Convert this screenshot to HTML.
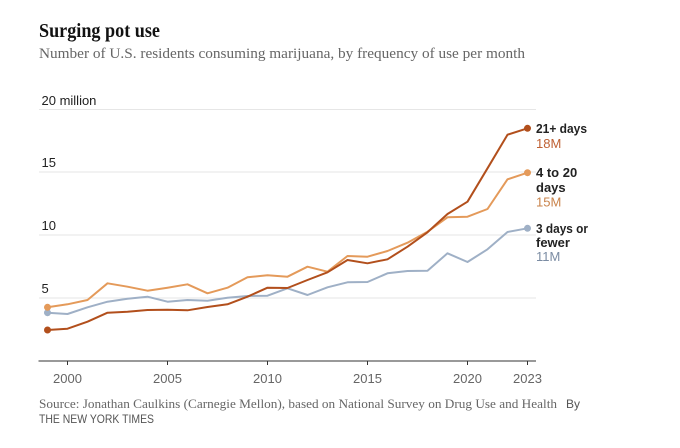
<!DOCTYPE html>
<html>
<head>
<meta charset="utf-8">
<style>
  html,body{margin:0;padding:0;background:#fff;}
  svg{display:block;}
</style>
</head>
<body>
<svg width="680" height="448" viewBox="0 0 680 448" xmlns="http://www.w3.org/2000/svg">
  <rect width="680" height="448" fill="#fff"/>
  <!-- Title -->
  <text x="39" y="37" font-family="Liberation Serif, serif" font-weight="bold" font-size="19.5" fill="#121212" textLength="121" lengthAdjust="spacingAndGlyphs">Surging pot use</text>
  <text x="39" y="58" font-family="Liberation Serif, serif" font-size="15" fill="#666" textLength="486" lengthAdjust="spacingAndGlyphs">Number of U.S. residents consuming marijuana, by frequency of use per month</text>

  <!-- Gridlines -->
  <g stroke="#e6e6e6" stroke-width="1">
    <line x1="39" y1="109.5" x2="536" y2="109.5"/>
    <line x1="39" y1="172" x2="536" y2="172"/>
    <line x1="39" y1="235" x2="536" y2="235"/>
    <line x1="39" y1="298" x2="536" y2="298"/>
  </g>
  <!-- Y labels -->
  <g font-family="Liberation Sans, sans-serif" font-size="13" fill="#222">
    <text x="41.5" y="105">20 million</text>
    <text x="41.5" y="167">15</text>
    <text x="41.5" y="230">10</text>
    <text x="41.5" y="293">5</text>
  </g>

  <!-- Axis -->
  <line x1="38.5" y1="361" x2="536" y2="361" stroke="#333" stroke-width="1"/>
  <g stroke="#333" stroke-width="1">
    <line x1="67.5" y1="361" x2="67.5" y2="365"/>
    <line x1="167.5" y1="361" x2="167.5" y2="365"/>
    <line x1="267.5" y1="361" x2="267.5" y2="365"/>
    <line x1="367.5" y1="361" x2="367.5" y2="365"/>
    <line x1="467.5" y1="361" x2="467.5" y2="365"/>
    <line x1="527.5" y1="361" x2="527.5" y2="365"/>
  </g>
  <g font-family="Liberation Sans, sans-serif" font-size="13" fill="#666" text-anchor="middle">
    <text x="67.5" y="383">2000</text>
    <text x="167.5" y="383">2005</text>
    <text x="267.5" y="383">2010</text>
    <text x="367.5" y="383">2015</text>
    <text x="467.5" y="383">2020</text>
    <text x="527.5" y="383">2023</text>
  </g>

  <!-- Series: 3 days or fewer -->
  <polyline fill="none" stroke="#9fb0c6" stroke-width="2" stroke-linejoin="round"
    points="47.5,312.7 67.5,314 87.5,307.3 107.5,301.7 127.5,298.7 147.5,296.7 167.5,301.7 187.5,300 207.5,300.7 227.5,297.7 247.5,296 267.5,295.7 287.5,288.3 307.5,295 327.5,287.3 347.5,282.3 367.5,282 387.5,273.3 407.5,271 427.5,270.7 447.5,253.3 467.5,262 487.5,249.3 507.5,232 527.5,228.3"/>
  <!-- Series: 4 to 20 days -->
  <polyline fill="none" stroke="#e49a5a" stroke-width="2" stroke-linejoin="round"
    points="47.5,307.3 67.5,304.3 87.5,300 107.5,283.3 127.5,286.7 147.5,290.7 167.5,287.7 187.5,284.3 207.5,293.3 227.5,287.7 247.5,277.3 267.5,275.3 287.5,276.7 307.5,266.7 327.5,271.7 347.5,256 367.5,256.7 387.5,251 407.5,242.7 427.5,231.7 447.5,217.3 467.5,216.7 487.5,209 507.5,179.3 527.5,172.7"/>
  <!-- Series: 21+ days -->
  <polyline fill="none" stroke="#b24f1c" stroke-width="2" stroke-linejoin="round"
    points="47.5,330 67.5,328.7 87.5,321.7 107.5,312.7 127.5,311.7 147.5,310 167.5,309.7 187.5,310.3 207.5,307 227.5,304.3 247.5,296.7 267.5,287.7 287.5,288 307.5,280 327.5,272.3 347.5,260 367.5,263.3 387.5,259.3 407.5,246.7 427.5,232.3 447.5,214 467.5,201.7 487.5,168.3 507.5,134.7 527.5,128.3"/>

  <!-- Dots -->
  <circle cx="47.5" cy="312.7" r="3.5" fill="#9fb0c6"/>
  <circle cx="47.5" cy="307.3" r="3.5" fill="#e49a5a"/>
  <circle cx="47.5" cy="330" r="3.5" fill="#b24f1c"/>
  <circle cx="527.5" cy="228.3" r="3.5" fill="#9fb0c6"/>
  <circle cx="527.5" cy="172.7" r="3.5" fill="#e49a5a"/>
  <circle cx="527.5" cy="128.3" r="3.5" fill="#b24f1c"/>

  <!-- End labels -->
  <g font-family="Liberation Sans, sans-serif" font-size="13">
    <text x="536" y="133" font-weight="bold" fill="#222" textLength="51" lengthAdjust="spacingAndGlyphs">21+ days</text>
    <text x="536" y="148" fill="#bf6134">18M</text>
    <text x="536" y="177" font-weight="bold" fill="#222">4 to 20</text>
    <text x="536" y="192" font-weight="bold" fill="#222">days</text>
    <text x="536" y="206.5" fill="#c9834a">15M</text>
    <text x="536" y="233" font-weight="bold" fill="#222" textLength="52" lengthAdjust="spacingAndGlyphs">3 days or</text>
    <text x="536" y="247" font-weight="bold" fill="#222">fewer</text>
    <text x="536" y="261" fill="#7b8ca3">11M</text>
  </g>

  <!-- Source -->
  <text x="39" y="408" font-family="Liberation Serif, serif" font-size="13" fill="#666" textLength="518" lengthAdjust="spacingAndGlyphs">Source: Jonathan Caulkins (Carnegie Mellon), based on National Survey on Drug Use and Health</text>
  <text x="566" y="408" font-family="Liberation Sans, sans-serif" font-size="12" fill="#555">By</text>
  <text x="39" y="423" font-family="Liberation Sans, sans-serif" font-size="12" fill="#555" textLength="115" lengthAdjust="spacingAndGlyphs">THE NEW YORK TIMES</text>
</svg>
</body>
</html>
